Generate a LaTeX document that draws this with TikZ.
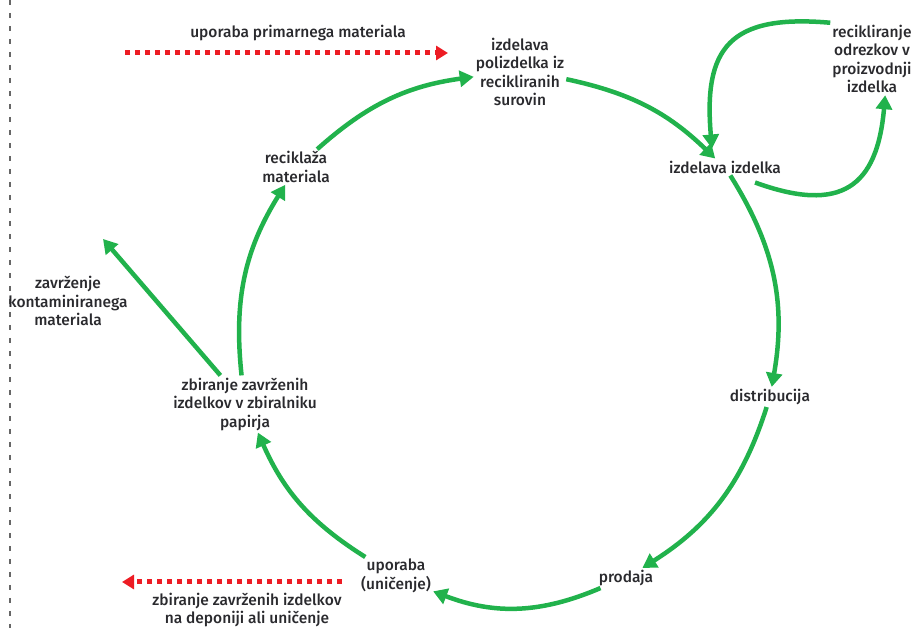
\documentclass[tikz,border=0pt]{standalone}
\usepackage{fontspec}
\setmainfont{Fira Sans}[UprightFont={* Medium}]
\usetikzlibrary{arrows.meta}

\definecolor{cyclegreen}{RGB}{33,178,76}
\definecolor{wastered}{RGB}{237,28,36}
\definecolor{labelgray}{RGB}{42,42,46}

\begin{document}
\begin{tikzpicture}[x=1pt, y=1pt,
    stage/.style={text=labelgray, align=center, inner sep=2pt,
                  font=\fontsize{15.5}{18.5}\selectfont},
    flow/.style={cyclegreen, line width=4.5pt,
                 -{Triangle[length=14pt, width=16pt]}},
    leak/.style={wastered, line width=5pt, dash pattern=on 5pt off 5pt,
                 -{Triangle[length=12pt, width=14pt]}}]
    \useasboundingbox (0,0) rectangle (917,628);
    % left border
    \draw[gray!80!black, line width=1.3pt, dash pattern=on 5pt off 8pt] (10,628) -- (10,0);

    % stages of the loop
    \node[stage] (poliz) at (520,556) {izdelava\\polizdelka iz\\recikliranih\\surovin};
    \node[stage] (izd) at (725,461) {izdelava izdelka};
    \node[stage] (odr) at (872,569) {recikliranje\\odrezkov v\\proizvodnji\\izdelka};
    \node[stage] (dist) at (770,231) {distribucija};
    \node[stage] (prod) at (626,50) {prodaja};
    \node[stage] (upor) at (396,52) {uporaba\\(uničenje)};
    \node[stage] (zbir) at (245,224) {zbiranje zavrženih\\izdelkov v zbiralniku\\papirja};
    \node[stage] (recik) at (296,461) {reciklaža\\materiala};
    \node[stage] (zavr) at (68,327) {zavrženje\\kontaminiranega\\materiala};
    \node[stage] (prim) at (298,595) {uporaba primarnega materiala};
    \node[stage] (depo) at (247,18) {zbiranje zavrženih izdelkov\\na deponiji ali uničenje};

    % the big cycle
    \draw[flow] (recik) to[bend left=17] (poliz);
    \draw[flow] (poliz) to[bend left=16] (izd);
    \draw[flow] (izd) to[bend left=21] (dist);
    \draw[flow] (dist) to[bend left=20] (prod);
    \draw[flow] (prod) to[bend left=22] (upor);
    \draw[flow] (upor) to[bend left=17] (zbir);
    \draw[flow] (zbir) to[bend left=19] (recik);

    % offcuts back into production
    \draw[flow] ([shift={(-28,-7)}]izd.south east) to[out=-20, in=-95, looseness=1.5] (odr.-70);
    \draw[flow] (odr.north west) to[out=175, in=95, looseness=1.5] ([shift={(-13,10)}]izd.north);

    % material leaving the loop
    \coordinate (dump) at (103,389);
    \draw[flow] (zbir) -- (dump);

    % primary material in, waste out
    \coordinate (primin) at (125,575);
    \draw[leak] (primin) -- (448,575);
    \coordinate (wasteout) at (122,46);
    \draw[leak] (342,46) -- (wasteout);
\end{tikzpicture}
\end{document}
